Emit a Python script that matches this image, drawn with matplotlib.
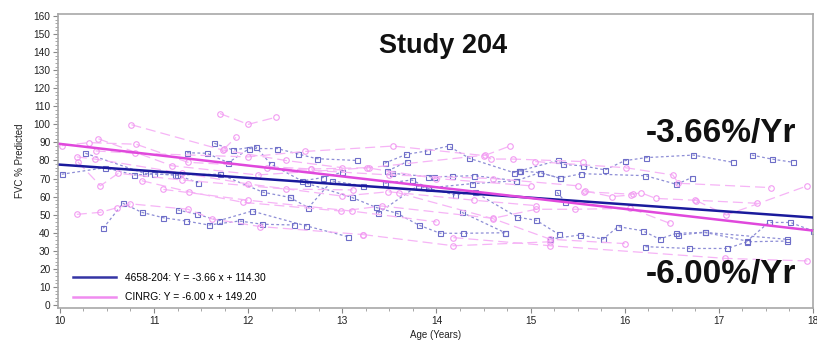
import matplotlib
matplotlib.use("Agg")
import matplotlib.pyplot as plt
from matplotlib.ticker import MultipleLocator

plt.rcParams['font.family'] = ['Liberation Sans', 'DejaVu Sans']

# ---- data ----
title_text = "Study 204"
x_label = "Age (Years)"
y_label = "FVC % Predicted"

series_names = ["4658-204", "CINRG"]
slopes = [-3.66, -6.00]
intercepts = [114.30, 149.20]
rate_labels = ["-3.66%/Yr", "-6.00%/Yr"]

# Individual subject trajectories, study 4658-204 (age, FVC %)
blue_traj = [
    [(10.02, 72.4), (10.48, 76.0), (10.79, 72.0), (11.00, 72.5), (11.24, 72.0), (11.47, 67.7)],
    [(10.27, 84.0), (10.90, 72.9), (11.22, 72.0), (11.70, 72.4), (12.16, 62.4), (12.44, 59.6)],
    [(10.46, 42.5), (10.67, 56.3), (10.87, 51.3), (11.10, 48.3), (11.34, 46.5), (11.58, 44.3),
     (11.91, 46.5), (12.15, 44.7), (12.49, 44.3)],
    [(11.25, 52.6), (11.46, 50.2), (11.69, 46.7), (12.04, 52.0), (12.61, 43.9), (13.06, 37.8)],
    [(11.35, 84.3), (11.56, 84.0), (11.79, 78.8), (12.01, 86.6), (12.31, 86.6), (12.53, 83.6),
     (12.73, 81.0), (13.16, 80.0)],
    [(11.64, 89.5), (11.84, 85.8), (12.08, 87.7), (12.24, 78.0), (12.57, 68.7), (12.79, 70.5),
     (13.00, 73.5)],
    [(12.44, 59.6), (12.64, 53.9), (12.89, 68.7), (13.22, 66.0)],
    [(12.62, 67.4), (13.10, 59.6), (13.36, 54.0), (13.58, 50.8), (13.81, 44.3), (14.04, 39.7),
     (14.28, 39.7), (14.73, 40.0)],
    [(13.45, 78.5), (13.68, 83.4), (13.90, 85.3), (14.13, 88.0), (14.35, 81.2), (14.82, 73.3),
     (14.88, 74.2)],
    [(13.53, 72.9), (13.91, 71.1), (13.97, 71.0), (14.16, 71.2), (14.40, 71.6), (14.85, 68.8),
     (15.10, 73.3), (15.31, 70.2), (15.54, 72.7), (16.22, 71.6), (16.55, 66.8), (16.71, 70.5)],
    [(13.38, 50.8), (13.80, 66.0), (14.20, 60.9), (14.41, 62.4), (14.86, 48.6), (15.06, 46.9),
     (15.30, 39.1)],
    [(13.45, 67.4), (13.74, 69.2), (13.91, 64.8), (14.38, 67.2), (14.85, 68.8)],
    [(13.48, 74.2), (13.69, 79.4)],
    [(14.27, 51.3), (14.73, 40.0)],
    [(14.88, 74.2), (15.29, 80.0), (15.34, 77.9), (15.56, 77.0), (15.79, 74.8), (16.00, 79.9),
     (16.23, 81.6), (16.73, 83.0), (17.15, 79.0)],
    [(15.28, 62.4), (15.37, 57.2)],
    [(15.21, 36.5), (15.53, 38.8), (15.77, 36.5), (15.93, 43.4), (16.19, 41.1), (16.37, 36.5),
     (16.55, 39.7), (16.85, 40.2), (17.30, 35.4), (17.53, 45.7), (17.76, 45.7), (18.00, 41.0)],
    [(16.22, 32.3), (16.68, 31.3), (17.09, 31.3), (17.30, 35.0), (17.72, 35.4)],
    [(16.57, 38.7), (16.85, 40.2), (17.72, 36.4)],
    [(17.35, 83.0), (17.56, 80.8), (17.79, 79.0)],
    [(14.89, 74.2), (15.10, 73.3), (15.31, 70.2)],
]

# Individual subject trajectories, CINRG (age, FVC %)
pink_traj = [
    [(10.76, 99.8), (11.73, 85.8), (12.40, 80.0), (13.00, 76.0)],
    [(11.70, 106.0), (12.00, 100.0), (12.30, 104.0)],
    [(11.74, 86.2), (11.87, 92.8)],
    [(10.02, 88.2), (10.31, 89.9), (10.81, 89.0), (11.36, 79.0), (12.67, 75.3)],
    [(10.41, 92.0), (11.19, 77.1), (12.10, 72.0), (13.28, 76.0), (14.52, 83.0), (14.58, 80.8),
     (14.81, 80.8), (15.56, 79.4)],
    [(10.18, 50.2), (10.43, 51.3), (10.61, 53.9), (10.75, 56.0), (11.36, 53.0), (11.62, 47.6),
     (12.13, 43.4), (13.22, 39.0)],
    [(10.19, 79.3), (10.43, 66.0), (10.62, 72.9), (11.30, 69.2), (12.40, 64.2), (13.11, 63.7)],
    [(10.87, 68.8), (11.37, 62.7), (11.95, 56.8), (12.99, 52.0), (13.42, 54.8), (14.60, 48.0),
     (15.06, 53.0), (15.47, 53.0), (16.06, 53.5), (16.48, 45.2)],
    [(10.38, 85.3), (10.80, 84.0), (12.00, 82.0), (12.60, 85.0), (13.54, 88.0), (14.51, 82.7),
     (14.78, 88.0)],
    [(10.18, 82.0), (10.37, 80.8), (11.30, 73.0), (12.00, 67.0), (13.00, 60.3), (13.49, 62.7),
     (14.40, 58.0), (15.06, 55.0)],
    [(13.22, 39.0), (14.18, 32.8), (15.21, 35.0)],
    [(14.18, 37.3), (15.21, 32.8), (17.07, 25.8), (17.94, 24.4)],
    [(15.57, 62.7), (16.09, 61.3), (16.17, 62.2), (16.33, 59.0), (16.75, 58.0), (17.41, 56.3)],
    [(15.05, 79.4), (16.01, 76.0), (16.51, 72.0), (16.57, 67.4), (17.55, 65.0)],
    [(15.58, 63.1), (15.86, 60.0), (16.07, 60.9)],
    [(16.76, 57.8), (17.08, 49.8), (17.94, 66.0)],
    [(12.67, 75.3), (13.26, 76.0), (14.00, 70.0), (15.00, 66.0)],
    [(11.10, 64.0), (12.00, 58.0), (13.10, 52.0), (14.00, 46.0)],
    [(12.20, 76.0), (13.50, 72.0), (14.60, 70.0), (15.50, 66.0)],
    [(13.60, 62.0), (14.60, 47.8), (15.21, 36.4), (16.00, 34.0)],
]

# ---- figure ----
W, H = 817, 340
fig = plt.figure(figsize=(W / 100, H / 100), dpi=100)
ax = fig.add_axes([58 / W, 1 - 308 / H, (813 - 58) / W, (308 - 14) / H])

blue_pt = '#6e6ec8'
pink_pt = '#f29cf2'

for tr in blue_traj:
    xs = [p[0] for p in tr]
    ys = [p[1] for p in tr]
    ax.plot(xs, ys, color='#8e8ed6', lw=0.9, dashes=(2.2, 2.0), marker='s', ms=3.6,
            mfc='none', mec=blue_pt, mew=0.8, zorder=2)

for tr in pink_traj:
    xs = [p[0] for p in tr]
    ys = [p[1] for p in tr]
    ax.plot(xs, ys, color='#f6b4f6', lw=0.9, dashes=(8, 4), marker='o', ms=4.0,
            mfc='none', mec=pink_pt, mew=0.8, zorder=2)

reg_colors = ['#1a1a9c', '#e048dc']
leg_colors = ['#3434a4', '#f08cf0']
x0, x1 = 10.0, 18.0
handles = []
for name, s, b, rc, lc in zip(series_names, slopes, intercepts, reg_colors, leg_colors):
    ax.plot([x0, x1], [s * x0 + b, s * x1 + b], color=rc, lw=1.8, zorder=4)
    h, = ax.plot([], [], color=lc, lw=1.8,
                 label=f"{name}: Y = {s:.2f} x + {b:.2f}")
    handles.append(h)

ax.legend(handles=handles, loc='lower left', bbox_to_anchor=(0.0146, 0.005),
          frameon=False, fontsize=7.4, handlelength=4.2, handletextpad=0.8,
          labelspacing=0.95, borderaxespad=0)

ax.set_xlim(9.98, 18.0)
ax.set_ylim(-1.66, 161.1)
ax.xaxis.set_major_locator(MultipleLocator(1))
ax.xaxis.set_minor_locator(MultipleLocator(0.25))
ax.yaxis.set_major_locator(MultipleLocator(10))
ax.yaxis.set_minor_locator(MultipleLocator(2))
ax.tick_params(axis='both', which='major', labelsize=7.3, length=3.5, width=0.8,
               color='#888888', labelcolor='#222222', pad=2)
ax.tick_params(axis='both', which='minor', length=2, width=0.6, color='#999999')

for sp in ax.spines.values():
    sp.set_color('#a8a8a8')
    sp.set_linewidth(1.2)

ax.set_xlabel(x_label, fontsize=7, color='#222222', labelpad=3)
ax.set_ylabel(y_label, fontsize=7, color='#222222', labelpad=6)

fig.text(443 / W, 1 - 46 / H, title_text, ha='center', va='center',
         fontsize=19.5, fontweight='bold', color='#111111')
fig.text(721 / W, 1 - 134 / H, rate_labels[0], ha='center', va='center',
         fontsize=24, fontweight='bold', color='#111111')
fig.text(721 / W, 1 - 275 / H, rate_labels[1], ha='center', va='center',
         fontsize=24, fontweight='bold', color='#111111')

fig.savefig("out.png", dpi=100)
